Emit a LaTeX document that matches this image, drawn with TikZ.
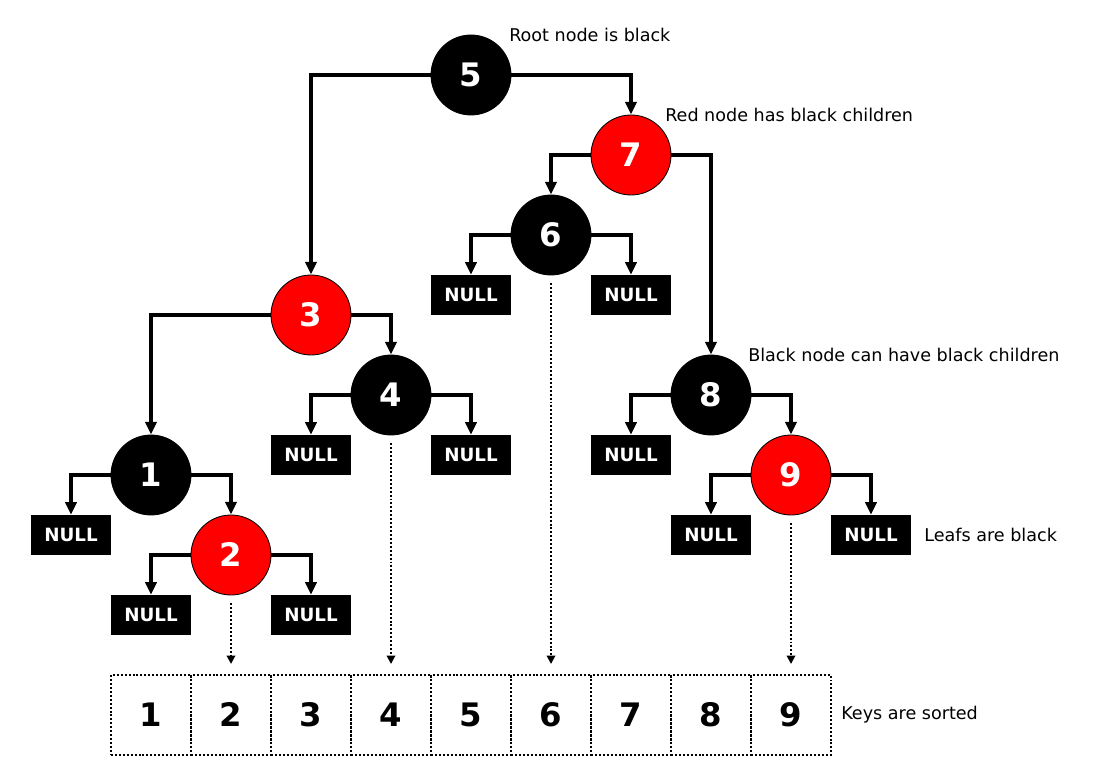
\documentclass[tikz,border=0pt]{standalone}
\usepackage{fontspec}
\setmainfont{DejaVu Sans}
\usetikzlibrary{arrows.meta}

\begin{document}
\begin{tikzpicture}[x=2cm,y=-2cm,
        blk/.style={circle,draw=black,fill=black,line width=0.6pt,minimum size=2cm,inner sep=0pt,text=white,font=\fontsize{23}{23}\selectfont\bfseries},
        rd/.style={blk,fill=red},
        nil/.style={rectangle,fill=black,minimum width=2cm,minimum height=1cm,inner sep=0pt,text=white,font=\fontsize{13}{13}\selectfont\bfseries},
        key/.style={rectangle,draw,dash pattern=on 1.4pt off 1.4pt,line width=1.4pt,minimum size=2cm,inner sep=0pt,font=\fontsize{23}{23}\selectfont\bfseries},
        lbl/.style={anchor=west,inner sep=0pt,font=\fontsize{12.5}{15}\selectfont},
        arr/.style={-{Triangle[width=8pt,length=9pt]},line width=2.3pt},
        dotarr/.style={-{Triangle[width=6pt,length=6pt]},line width=1.4pt,dash pattern=on 1.4pt off 1.4pt,shorten <=0.2cm,shorten >=0.25cm}]
        \useasboundingbox (-0.8875,-0.9375) rectangle (12.775,8.825);
        \node[blk](n5)at(5,0){5};
        \node[rd](n7)at(7,1){7};
        \node[blk](n6)at(6,2){6};
        \node[rd](n3)at(3,3){3};
        \node[blk](n4)at(4,4){4};
        \node[blk](n8)at(8,4){8};
        \node[blk](n1)at(1,5){1};
        \node[rd](n9)at(9,5){9};
        \node[rd](n2)at(2,6){2};
        \node[nil](l6)at(5,2.75){NULL};
        \node[nil](r6)at(7,2.75){NULL};
        \node[nil](l4)at(3,4.75){NULL};
        \node[nil](r4)at(5,4.75){NULL};
        \node[nil](l8)at(7,4.75){NULL};
        \node[nil](l1)at(0,5.75){NULL};
        \node[nil](l9)at(8,5.75){NULL};
        \node[nil](r9)at(10,5.75){NULL};
        \node[nil](l2)at(1,6.75){NULL};
        \node[nil](r2)at(3,6.75){NULL};
        \foreach \k in {1,...,9}
            \node[key](k\k)at(\k,8){\k};
        \draw[arr] (n5) -| (n3);
        \draw[arr] (n5) -| (n7);
        \draw[arr] (n7) -| (n6);
        \draw[arr] (n7) -| (n8);
        \draw[arr] (n6) -| (l6);
        \draw[arr] (n6) -| (r6);
        \draw[arr] (n3) -| (n1);
        \draw[arr] (n3) -| (n4);
        \draw[arr] (n4) -| (l4);
        \draw[arr] (n4) -| (r4);
        \draw[arr] (n8) -| (l8);
        \draw[arr] (n8) -| (n9);
        \draw[arr] (n1) -| (l1);
        \draw[arr] (n1) -| (n2);
        \draw[arr] (n9) -| (l9);
        \draw[arr] (n9) -| (r9);
        \draw[arr] (n2) -| (l2);
        \draw[arr] (n2) -| (r2);
        \draw[dotarr] (n2) -- (k2);
        \draw[dotarr] (n4) -- (k4);
        \draw[dotarr] (n6) -- (k6);
        \draw[dotarr] (n9) -- (k9);
        \node[lbl](t5)at(5.475,-0.5){Root node is black};
        \node[lbl](t7)at(7.425,0.5){Red node has black children};
        \node[lbl](t8)at(8.4625,3.5){Black node can have black children};
        \node[lbl](tl)at(10.6625,5.75){Leafs are black};
        \node[lbl](tk)at(9.625,8){Keys are sorted};
\end{tikzpicture}
\end{document}
